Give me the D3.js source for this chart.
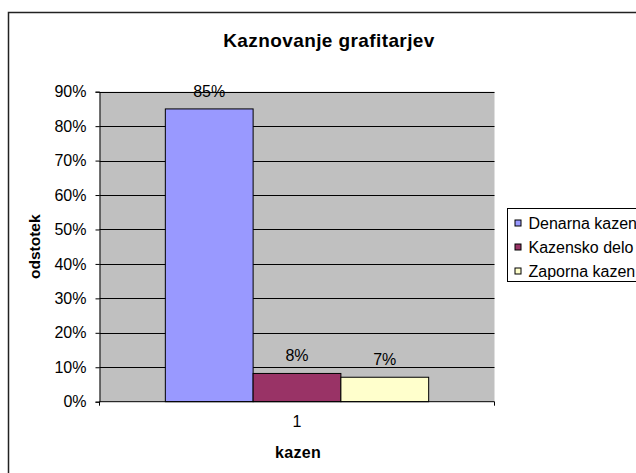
<!DOCTYPE html>
<html>
<head>
<meta charset="utf-8">
<script src="https://cdn.jsdelivr.net/npm/d3@7"></script>
<style>
  body { margin: 0; background: #fff; }
  text { font-family: "Liberation Sans", Arial, sans-serif; fill: #000; }
</style>
</head>
<body>
<script>
const w = 636;
const h = 473;

// data
const categories = ["1"];
const series = ["Denarna kazen", "Kazensko delo", "Zaporna kazen"];
const values = [0.85, 0.082, 0.071];
const colors = ["#9999ff", "#993366", "#ffffcc"];
const yTicks = [0, 0.1, 0.2, 0.3, 0.4, 0.5, 0.6, 0.7, 0.8, 0.9];

const plot = {left: 99.5, right: 494.5, top: 91.7, bottom: 401.7};
const font = "'Liberation Sans', Arial, sans-serif";

let svg = d3.select("body")
  .append("svg")
  .attr("width", w)
  .attr("height", h);

// chart frame
svg.append("rect")
  .attr("x", 8.5).attr("y", 12.5)
  .attr("width", 700).attr("height", 500)
  .attr("fill", "#fff")
  .attr("stroke", "#222")
  .attr("stroke-width", 1.5);

// title
svg.append("text")
  .attr("x", 329).attr("y", 47)
  .attr("text-anchor", "middle")
  .style("font-size", "19px")
  .style("font-weight", "bold")
  .style("letter-spacing", "0.4px")
  .text("Kaznovanje grafitarjev");

// scales
let x0 = d3.scaleBand()
  .domain(categories)
  .range([plot.left, plot.right])
  .padding(0);

let x1 = d3.scaleBand()
  .domain(series)
  .range([0, x0.bandwidth()])
  .paddingInner(0)
  .paddingOuter(0.75);

let y = d3.scaleLinear()
  .domain([0, 0.9])
  .range([plot.bottom, plot.top]);

// plot area
svg.append("rect")
  .attr("x", plot.left).attr("y", plot.top)
  .attr("width", plot.right - plot.left)
  .attr("height", plot.bottom - plot.top)
  .attr("fill", "#c0c0c0");

// gridlines
svg.append("g")
  .selectAll("line")
  .data(yTicks.slice(1))
  .enter()
  .append("line")
  .attr("x1", plot.left).attr("x2", plot.right)
  .attr("y1", d => Math.round(y(d)) + 0.5)
  .attr("y2", d => Math.round(y(d)) + 0.5)
  .attr("stroke", "#000")
  .attr("stroke-width", 1);

// bars
let bars = svg.append("g");
categories.forEach((c, ci) => {
  bars.selectAll("rect.s" + ci)
    .data(series)
    .enter()
    .append("rect")
    .attr("x", (d) => x0(c) + x1(d))
    .attr("y", (d, i) => y(values[i]))
    .attr("width", x1.bandwidth())
    .attr("height", (d, i) => y(0) - y(values[i]))
    .attr("fill", (d, i) => colors[i])
    .attr("stroke", "#000")
    .attr("stroke-width", 1);

  bars.selectAll("text.s" + ci)
    .data(series)
    .enter()
    .append("text")
    .attr("x", (d) => x0(c) + x1(d) + x1.bandwidth() / 2)
    .attr("y", (d, i) => y(values[i]) - 12)
    .attr("text-anchor", "middle")
    .style("font-size", "16px")
    .text((d, i) => d3.format(".0%")(values[i]));
});

// y axis
let yAxis = d3.axisLeft(y)
  .tickValues(yTicks)
  .tickFormat(d3.format(".0%"))
  .tickSize(4)
  .tickPadding(9);

svg.append("g")
  .attr("transform", "translate(" + plot.left + ",0)")
  .call(yAxis)
  .call(g => g.select(".domain").attr("stroke", "#000"))
  .call(g => g.selectAll("line").attr("stroke", "#000"))
  .call(g => g.selectAll("text")
    .style("font-size", "16px")
    .style("font-family", font));

// x axis: ticks at category edges
let xAxis = d3.axisBottom(x0)
  .tickSize(0)
  .tickPadding(14);

svg.append("g")
  .attr("transform", "translate(0," + plot.bottom + ")")
  .call(xAxis)
  .call(g => g.select(".domain").attr("d", "M" + plot.left + ",0H" + plot.right).attr("stroke", "#000"))
  .call(g => g.selectAll("text")
    .style("font-size", "16px")
    .style("font-family", font));

svg.append("g")
  .selectAll("line")
  .data([plot.left, plot.right])
  .enter()
  .append("line")
  .attr("x1", d => d).attr("x2", d => d)
  .attr("y1", plot.bottom).attr("y2", plot.bottom + 4)
  .attr("stroke", "#000");

// axis titles
svg.append("text")
  .attr("x", 298).attr("y", 458)
  .attr("text-anchor", "middle")
  .style("font-size", "16px")
  .style("font-weight", "bold")
  .style("letter-spacing", "0.3px")
  .text("kazen");

svg.append("text")
  .attr("transform", "translate(40," + ((plot.top + plot.bottom) / 2) + ") rotate(-90)")
  .attr("text-anchor", "middle")
  .style("font-size", "15.5px")
  .style("font-weight", "bold")
  .text("odstotek");

// legend
let legend = svg.append("g")
  .attr("transform", "translate(507.5,208.5)");

legend.append("rect")
  .attr("width", 200).attr("height", 73)
  .attr("fill", "#fff")
  .attr("stroke", "#000");

let items = legend.selectAll("g.item")
  .data(series)
  .enter()
  .append("g")
  .attr("transform", (d, i) => "translate(0," + (15 + i * 24) + ")");

items.append("rect")
  .attr("x", 7.5).attr("y", -3.5)
  .attr("width", 6).attr("height", 6)
  .attr("fill", (d, i) => colors[i])
  .attr("stroke", "#000");

items.append("text")
  .attr("x", 21).attr("y", 5)
  .style("font-size", "16px")
  .text(d => d);
</script>
</body>
</html>
